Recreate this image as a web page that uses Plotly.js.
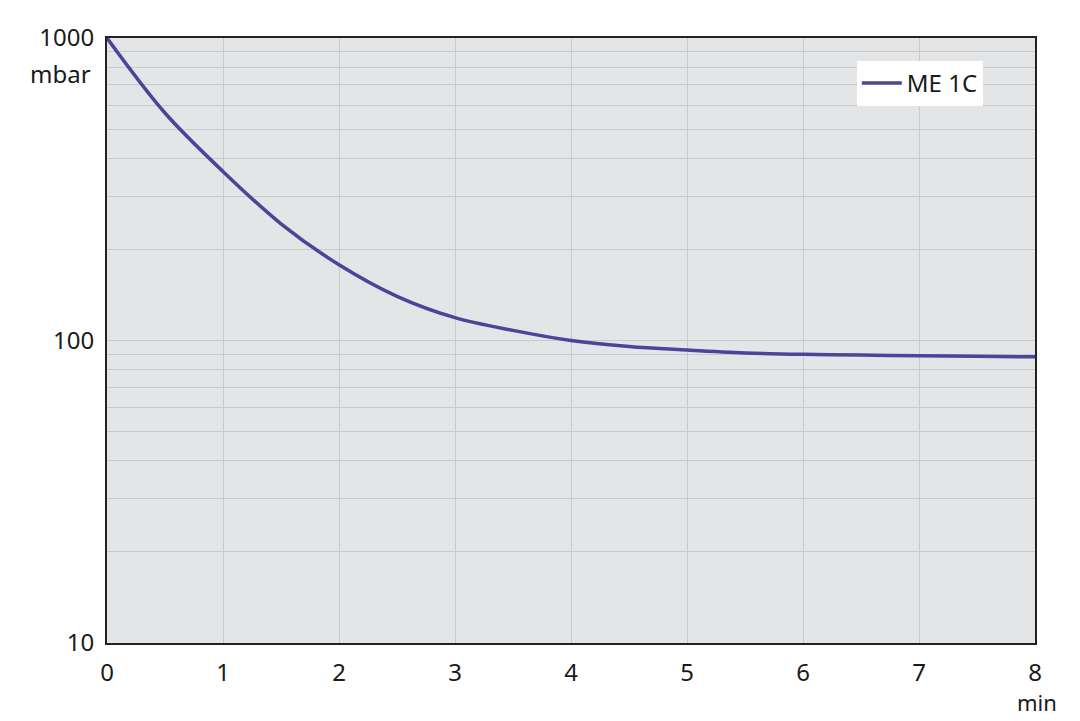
<!DOCTYPE html>
<html>
<head>
<meta charset="utf-8">
<script src="https://cdn.plot.ly/plotly-3.0.1.min.js"></script>
<style>
  html, body { margin: 0; padding: 0; background: #fff; }
  #plot { width: 1080px; height: 721px; }
</style>
</head>
<body>
<div id="plot"></div>
<script>
// pump-down curve, time in min, pressure in mbar
const timeMin = [0, 0.5, 1, 1.5, 2, 2.5, 3, 3.5, 4, 4.5, 5, 5.5, 6, 6.5, 7, 7.5, 8]
const pressure = [1000, 565, 362, 243, 178, 140, 119, 108, 100, 95.5, 93, 91, 90, 89.5, 89, 88.7, 88.3]
const seriesName = 'ME 1C'

const xTicks = [0, 1, 2, 3, 4, 5, 6, 7, 8]
const yTicks = [10, 100, 1000]
const yMinor = [20, 30, 40, 50, 60, 70, 80, 90, 200, 300, 400, 500, 600, 700, 800, 900]

const font = 'Noto Sans, DejaVu Sans, sans-serif'
const gridColor = '#c9cacc'
const fontSize = 24

const traces = [{
  x: timeMin,
  y: pressure,
  type: 'scatter',
  mode: 'lines',
  name: seriesName,
  line: { color: '#4b4499', width: 3.5, shape: 'spline', smoothing: 1 }
}]

const layout = {
  width: 1080,
  height: 721,
  margin: { l: 107, r: 45, t: 38, b: 78 },
  paper_bgcolor: '#ffffff',
  plot_bgcolor: '#e4e5e7',
  font: { family: font, size: fontSize, color: '#1a1a1a' },
  showlegend: true,
  legend: {
    x: 0.808,
    y: 0.962,
    xanchor: 'left',
    yanchor: 'top',
    bgcolor: '#ffffff',
    borderwidth: 0,
    itemwidth: 40,
    font: { family: font, size: fontSize, color: '#1a1a1a' }
  },
  xaxis: {
    range: [0, 8],
    tickvals: xTicks,
    ticktext: xTicks.map(String),
    ticks: '',
    showgrid: true,
    gridcolor: gridColor,
    gridwidth: 1,
    zeroline: false,
    showline: true,
    linecolor: '#222222',
    linewidth: 2,
    mirror: true,
    ticklabelstandoff: 7
  },
  yaxis: {
    type: 'log',
    range: [1, 3],
    tickvals: yTicks,
    ticktext: yTicks.map(String),
    ticks: '',
    showgrid: true,
    gridcolor: gridColor,
    gridwidth: 1,
    minor: { tickvals: yMinor, showgrid: true, gridcolor: gridColor, gridwidth: 1, ticks: '' },
    zeroline: false,
    showline: true,
    linecolor: '#222222',
    linewidth: 2,
    mirror: true,
    ticklabelstandoff: 6
  },
  annotations: [
    {
      text: 'mbar', xref: 'paper', yref: 'paper',
      x: 0, y: 0.942, xanchor: 'right', yanchor: 'middle', xshift: -14,
      showarrow: false, font: { family: font, size: fontSize, color: '#1a1a1a' }
    },
    {
      text: 'min', xref: 'paper', yref: 'paper',
      x: 1, y: 0, xanchor: 'center', yanchor: 'top', yshift: -43, xshift: 2,
      showarrow: false, borderpad: 0, font: { family: font, size: 22, color: '#1a1a1a' }
    }
  ]
}

Plotly.newPlot('plot', traces, layout, { displayModeBar: false, staticPlot: true })
</script>
</body>
</html>
